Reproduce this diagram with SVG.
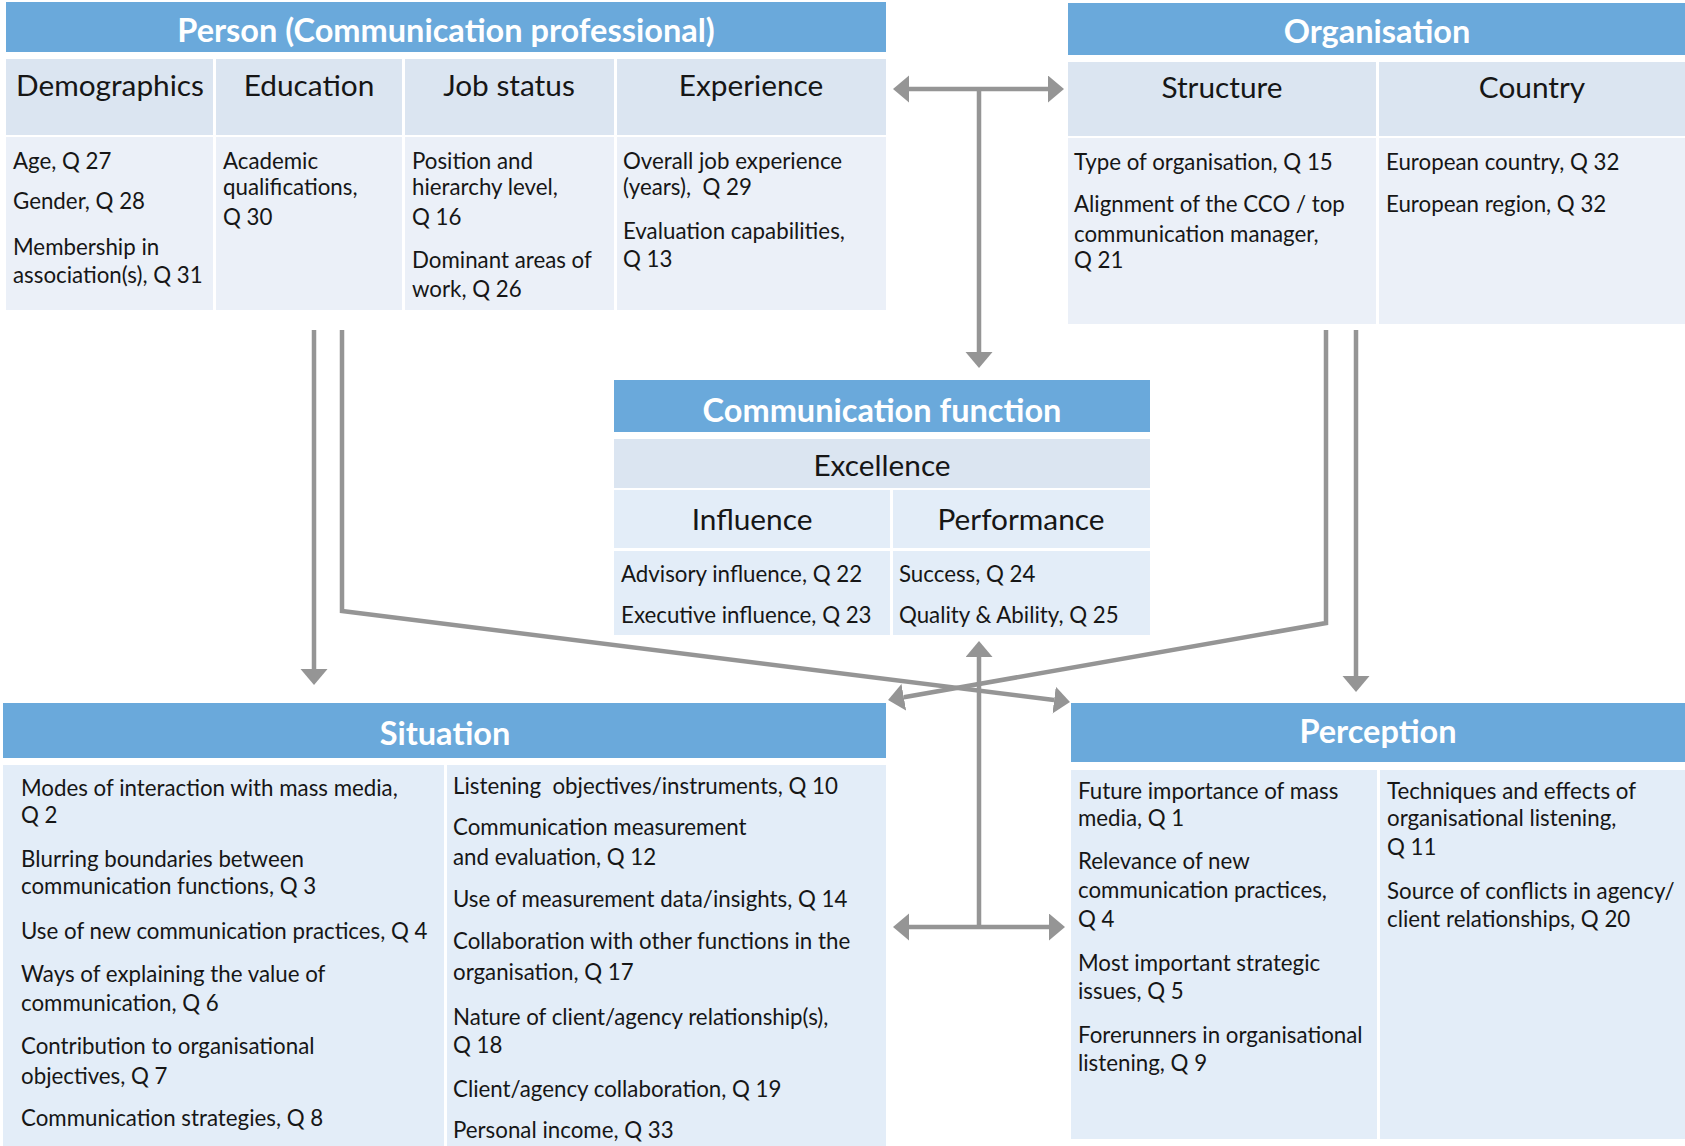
<svg xmlns="http://www.w3.org/2000/svg" width="1685" height="1146" viewBox="0 0 1685 1146">
<style>
.hdr{fill:#6AA9DB}
.sub{fill:#DBE5F1}
.ba{fill:#EBF0F8}
.bb{fill:#E3EDF8}
text{font-family:Lato,"Liberation Sans",sans-serif;fill:#161616}
.ht{font-weight:bold;font-size:32.5px;fill:#ffffff;text-anchor:middle}
.st{font-size:29.8px;text-anchor:middle}
.bt{font-size:22.3px;white-space:pre}
.conn{stroke:#959595;stroke-width:4.5;fill:none}
</style>
<defs>
<marker id="ah" markerUnits="userSpaceOnUse" markerWidth="17" markerHeight="28" refX="0" refY="13.5" orient="auto-start-reverse" viewBox="0 0 17 28">
<path d="M0,0 L16,13.5 L0,27 z" fill="#959595"/>
</marker>
</defs>
<rect width="1685" height="1146" fill="#ffffff"/>

<g id="person">
<rect class="hdr" x="6" y="2" width="880" height="50"/>
<text class="ht" x="446" y="42">Person (Communication professional)</text>
<rect class="sub" x="6" y="59" width="207" height="76"/>
<rect class="sub" x="216" y="59" width="186" height="76"/>
<rect class="sub" x="405" y="59" width="209" height="76"/>
<rect class="sub" x="617" y="59" width="269" height="76"/>
<rect class="ba" x="6" y="137" width="207" height="173"/>
<rect class="ba" x="216" y="137" width="186" height="173"/>
<rect class="ba" x="405" y="137" width="209" height="173"/>
<rect class="ba" x="617" y="137" width="269" height="173"/>
<text class="st" x="110" y="96">Demographics</text>
<text class="st" x="309" y="96">Education</text>
<text class="st" x="509" y="96">Job status</text>
<text class="st" x="751" y="96">Experience</text>
<text class="bt" x="13" y="169">Age, Q 27</text>
<text class="bt" x="13" y="209">Gender, Q 28</text>
<text class="bt" x="13" y="255">Membership in</text>
<text class="bt" x="13" y="283">association(s), Q 31</text>
<text class="bt" x="223" y="169">Academic</text>
<text class="bt" x="223" y="195">qualifications,</text>
<text class="bt" x="223" y="225">Q 30</text>
<text class="bt" x="412" y="169">Position and</text>
<text class="bt" x="412" y="195">hierarchy level,</text>
<text class="bt" x="412" y="225">Q 16</text>
<text class="bt" x="412" y="268">Dominant areas of</text>
<text class="bt" x="412" y="297">work, Q 26</text>
<text class="bt" x="623" y="169">Overall job experience</text>
<text class="bt" x="623" y="195">(years),  Q 29</text>
<text class="bt" x="623" y="239">Evaluation capabilities,</text>
<text class="bt" x="623" y="267">Q 13</text>
</g>

<g id="organisation">
<rect class="hdr" x="1068" y="3" width="617" height="52"/>
<text class="ht" x="1377" y="43">Organisation</text>
<rect class="sub" x="1068" y="62" width="308" height="74"/>
<rect class="sub" x="1379" y="62" width="306" height="74"/>
<rect class="ba" x="1068" y="138" width="308" height="186"/>
<rect class="ba" x="1379" y="138" width="306" height="186"/>
<text class="st" x="1222" y="98">Structure</text>
<text class="st" x="1532" y="98">Country</text>
<text class="bt" x="1074" y="170">Type of organisation, Q 15</text>
<text class="bt" x="1074" y="212">Alignment of the CCO / top</text>
<text class="bt" x="1074" y="242">communication manager,</text>
<text class="bt" x="1074" y="268">Q 21</text>
<text class="bt" x="1386" y="170">European country, Q 32</text>
<text class="bt" x="1386" y="212">European region, Q 32</text>
</g>

<g id="communication-function">
<rect class="hdr" x="614" y="380" width="536" height="52"/>
<text class="ht" x="882" y="422">Communication function</text>
<rect class="sub" x="614" y="439" width="536" height="49"/>
<text class="st" x="882" y="476">Excellence</text>
<rect class="bb" x="614" y="490" width="276" height="58"/>
<rect class="bb" x="893" y="490" width="257" height="58"/>
<rect class="bb" x="614" y="551" width="276" height="84"/>
<rect class="bb" x="893" y="551" width="257" height="84"/>
<text class="st" x="752" y="530">Influence</text>
<text class="st" x="1021" y="530">Performance</text>
<text class="bt" x="621" y="582">Advisory influence, Q 22</text>
<text class="bt" x="621" y="623">Executive influence, Q 23</text>
<text class="bt" x="899" y="582">Success, Q 24</text>
<text class="bt" x="899" y="623">Quality &amp; Ability, Q 25</text>
</g>

<g id="situation">
<rect class="hdr" x="3" y="703" width="883" height="55"/>
<text class="ht" x="445" y="745">Situation</text>
<rect class="bb" x="3" y="765" width="441" height="381"/>
<rect class="bb" x="447" y="765" width="439" height="381"/>
<text class="bt" x="21" y="796">Modes of interaction with mass media,</text>
<text class="bt" x="21" y="823">Q 2</text>
<text class="bt" x="21" y="867">Blurring boundaries between</text>
<text class="bt" x="21" y="894">communication functions, Q 3</text>
<text class="bt" x="21" y="939">Use of new communication practices, Q 4</text>
<text class="bt" x="21" y="982">Ways of explaining the value of</text>
<text class="bt" x="21" y="1011">communication, Q 6</text>
<text class="bt" x="21" y="1054">Contribution to organisational</text>
<text class="bt" x="21" y="1084">objectives, Q 7</text>
<text class="bt" x="21" y="1126">Communication strategies, Q 8</text>
<text class="bt" x="453" y="794">Listening  objectives/instruments, Q 10</text>
<text class="bt" x="453" y="835">Communication measurement</text>
<text class="bt" x="453" y="865">and evaluation, Q 12</text>
<text class="bt" x="453" y="907">Use of measurement data/insights, Q 14</text>
<text class="bt" x="453" y="949">Collaboration with other functions in the</text>
<text class="bt" x="453" y="980">organisation, Q 17</text>
<text class="bt" x="453" y="1025">Nature of client/agency relationship(s),</text>
<text class="bt" x="453" y="1053">Q 18</text>
<text class="bt" x="453" y="1097">Client/agency collaboration, Q 19</text>
<text class="bt" x="453" y="1138">Personal income, Q 33</text>
</g>

<g id="perception">
<rect class="hdr" x="1071" y="703" width="614" height="59"/>
<text class="ht" x="1378" y="743">Perception</text>
<rect class="bb" x="1071" y="770" width="306" height="369"/>
<rect class="bb" x="1380" y="770" width="305" height="369"/>
<text class="bt" x="1078" y="799">Future importance of mass</text>
<text class="bt" x="1078" y="826">media, Q 1</text>
<text class="bt" x="1078" y="869">Relevance of new</text>
<text class="bt" x="1078" y="898">communication practices,</text>
<text class="bt" x="1078" y="927">Q 4</text>
<text class="bt" x="1078" y="971">Most important strategic</text>
<text class="bt" x="1078" y="999">issues, Q 5</text>
<text class="bt" x="1078" y="1043">Forerunners in organisational</text>
<text class="bt" x="1078" y="1071">listening, Q 9</text>
<text class="bt" x="1387" y="799">Techniques and effects of</text>
<text class="bt" x="1387" y="826">organisational listening,</text>
<text class="bt" x="1387" y="855">Q 11</text>
<text class="bt" x="1387" y="899">Source of conflicts in agency/</text>
<text class="bt" x="1387" y="927">client relationships, Q 20</text>
</g>

<g id="connectors">
<path class="conn" d="M909,89 H1048" marker-start="url(#ah)" marker-end="url(#ah)"/>
<path class="conn" d="M979,89 V352" marker-end="url(#ah)"/>
<path class="conn" d="M314,330 V669" marker-end="url(#ah)"/>
<path class="conn" d="M342,330 V611 L1054.1,700" marker-end="url(#ah)"/>
<path class="conn" d="M1326,330 V623 L903.8,697.2" marker-end="url(#ah)"/>
<path class="conn" d="M1356,330 V676" marker-end="url(#ah)"/>
<path class="conn" d="M979,927 V657" marker-end="url(#ah)"/>
<path class="conn" d="M909,927 H1049" marker-start="url(#ah)" marker-end="url(#ah)"/>
</g>
</svg>
